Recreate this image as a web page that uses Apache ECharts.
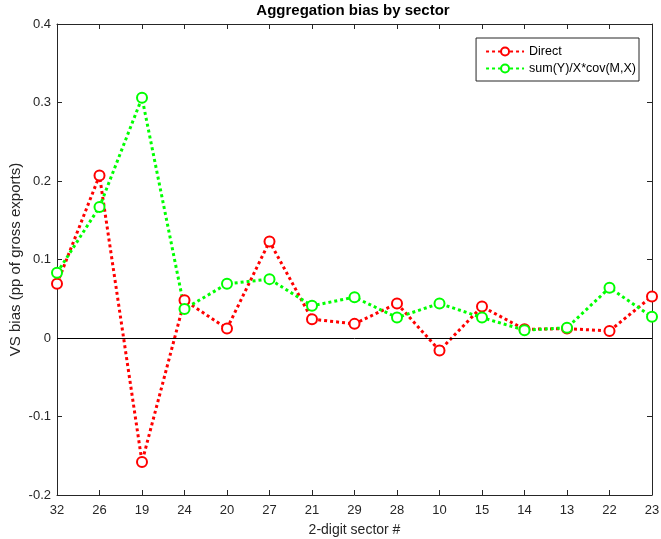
<!DOCTYPE html>
<html>
<head>
<meta charset="utf-8">
<script src="https://cdn.jsdelivr.net/npm/echarts@6/dist/echarts.min.js"></script>
<style>
  html, body { margin: 0; padding: 0; background: #fff; }
  #chart { width: 661px; height: 539px; }
</style>
</head>
<body>
<div id="chart"></div>
<script>
  // sector codes along the x axis
  var sectors = ['32', '26', '19', '24', '20', '27', '21', '29', '28', '10', '15', '14', '13', '22', '23'];
  // direct aggregation bias
  var direct = [0.069, 0.207, -0.158, 0.048, 0.012, 0.123, 0.024, 0.018, 0.044, -0.016, 0.040, 0.011, 0.012, 0.009, 0.053];
  // sum(Y)/X*cov(M,X)
  var covTerm = [0.083, 0.167, 0.306, 0.037, 0.069, 0.075, 0.041, 0.052, 0.026, 0.044, 0.026, 0.010, 0.013, 0.064, 0.027];
  var yTicks = [-0.2, -0.1, 0, 0.1, 0.2, 0.3, 0.4];

  var font = 'Liberation Sans, Arial, Helvetica, sans-serif';
  var axisCol = '#262626';

  var chart = echarts.init(document.getElementById('chart'));
  var mkX = function (pos, show) {
    return {
      type: 'category',
      position: pos,
      data: sectors,
      boundaryGap: false,
      axisLine: { show: true, onZero: false, lineStyle: { color: axisCol, width: 1 } },
      axisTick: { show: true, inside: true, length: 5, alignWithLabel: true, lineStyle: { color: axisCol } },
      axisLabel: { show: show, color: axisCol, fontFamily: font, fontSize: 13, margin: 9 },
      splitLine: { show: false }
    };
  };
  var mkY = function (pos, show) {
    return {
      type: 'value',
      position: pos,
      min: -0.2,
      max: 0.4,
      interval: 0.1,
      axisLine: { show: true, onZero: false, lineStyle: { color: axisCol, width: 1 } },
      axisTick: { show: true, inside: true, length: 5, lineStyle: { color: axisCol } },
      axisLabel: {
        show: show, color: axisCol, fontFamily: font, fontSize: 13, margin: 6,
        formatter: function (v) {
          var r = Math.round(v * 10) / 10;
          return yTicks.indexOf(r) >= 0 ? String(r) : '';
        }
      },
      splitLine: { show: false }
    };
  };

  var xBottom = mkX('bottom', true);
  xBottom.name = '2-digit sector #';
  xBottom.nameLocation = 'middle';
  xBottom.nameGap = 28;
  xBottom.nameTextStyle = { color: axisCol, fontFamily: font, fontSize: 14 };

  var yLeft = mkY('left', true);
  yLeft.name = 'VS bias (pp of gross exports)';
  yLeft.nameLocation = 'middle';
  yLeft.nameGap = 41;
  yLeft.nameMoveOverlap = false;
  yLeft.nameTextStyle = { color: axisCol, fontFamily: font, fontSize: 15, verticalAlign: 'middle' };

  var mkSeries = function (name, data, color) {
    return {
      name: name,
      type: 'line',
      data: data,
      symbol: 'emptyCircle',
      symbolSize: 10,
      showSymbol: true,
      color: color,
      itemStyle: { color: color, borderWidth: 2.5 },
      lineStyle: { color: color, width: 3, type: [3, 3] },
      z: 3
    };
  };

  var s1 = mkSeries('Direct', direct, '#ff0000');
  s1.markLine = {
    silent: true,
    symbol: 'none',
    label: { show: false },
    lineStyle: { color: '#000', width: 1, type: 'solid' },
    data: [{ yAxis: 0 }]
  };

  var option = {
    backgroundColor: '#fff',
    animation: false,
    title: {
      text: 'Aggregation bias by sector',
      left: 353,
      textAlign: 'center',
      top: 3,
      padding: 0,
      textStyle: { fontFamily: font, fontSize: 15, fontWeight: 'bold', color: '#000' }
    },
    grid: { left: 57, right: 9, top: 24, bottom: 44, outerBoundsMode: 'none' },
    legend: {
      orient: 'vertical',
      right: 22,
      top: 38,
      padding: [7, 3, 6, 9],
      itemGap: 4,
      itemWidth: 38,
      itemHeight: 10,
      borderColor: axisCol,
      borderWidth: 1,
      backgroundColor: '#fff',
      textStyle: { fontFamily: font, fontSize: 12.5, color: '#000' },
      data: ['Direct', 'sum(Y)/X*cov(M,X)']
    },
    xAxis: [xBottom, mkX('top', false)],
    yAxis: [yLeft, mkY('right', false)],
    series: [s1, mkSeries('sum(Y)/X*cov(M,X)', covTerm, '#00ff00')]
  };
  chart.setOption(option);
</script>
</body>
</html>
